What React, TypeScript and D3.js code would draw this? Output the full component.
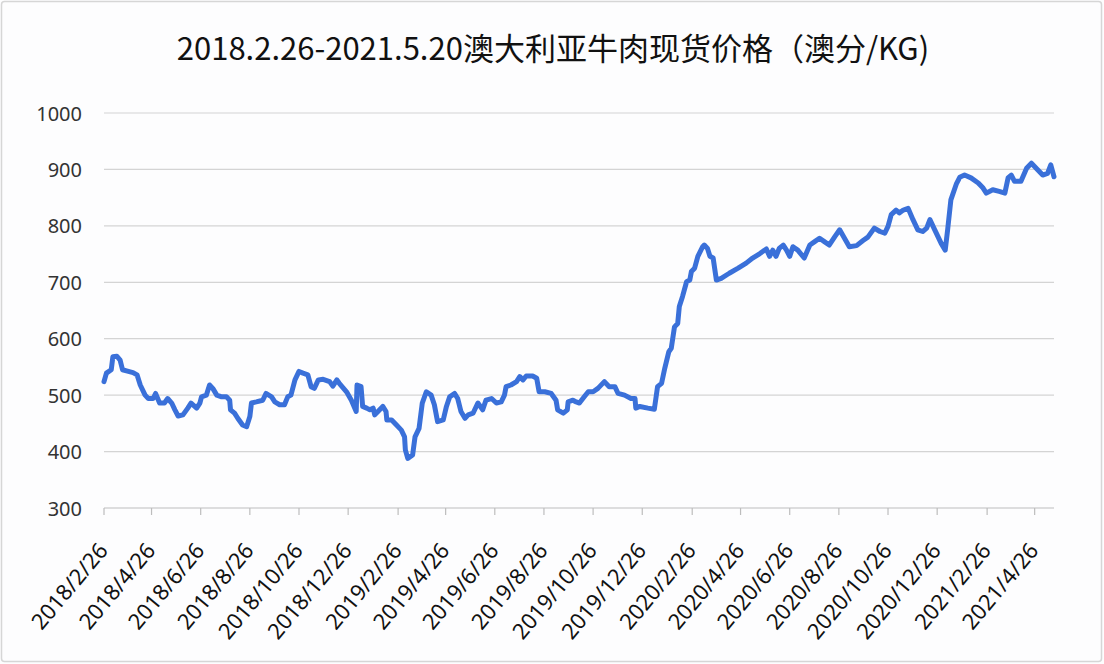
import * as d3 from "d3"

// 澳大利亚牛肉现货价格 (澳分/KG)
const dates2018 = [
  "2018-02-26", "2018-03-01", "2018-03-07", "2018-03-09", "2018-03-14", "2018-03-18", "2018-03-21", "2018-03-26",
  "2018-04-03", "2018-04-08", "2018-04-12", "2018-04-18", "2018-04-22", "2018-04-28", "2018-05-01", "2018-05-06",
  "2018-05-12", "2018-05-16", "2018-05-21", "2018-05-25", "2018-05-29", "2018-06-04", "2018-06-10", "2018-06-14",
  "2018-06-21", "2018-06-25", "2018-06-27", "2018-07-03", "2018-07-07", "2018-07-11", "2018-07-16", "2018-07-22",
  "2018-07-28", "2018-08-01", "2018-08-02", "2018-08-07", "2018-08-11", "2018-08-17", "2018-08-22", "2018-08-26",
  "2018-08-28", "2018-09-03", "2018-09-11", "2018-09-15", "2018-09-22", "2018-09-26", "2018-10-02", "2018-10-08",
  "2018-10-12", "2018-10-16", "2018-10-21", "2018-10-26", "2018-10-31", "2018-11-06", "2018-11-10", "2018-11-14",
  "2018-11-19", "2018-11-25", "2018-12-03", "2018-12-07", "2018-12-12", "2018-12-15", "2018-12-24", "2018-12-30",
]
const prices2018 = [
  524, 539, 545, 568, 569, 562, 545, 543,
  540, 536, 518, 500, 494, 494, 503, 486,
  486, 494, 486, 474, 463, 465, 477, 486,
  477, 486, 497, 500, 518, 512, 500, 497,
  497, 491, 474, 468, 459, 447, 444, 462,
  486, 488, 491, 503, 497, 488, 483, 483,
  497, 500, 527, 542, 539, 536, 515, 512,
  527, 528, 524, 516, 527, 521, 506, 491,
]

const dates2019 = [
  "2019-01-05", "2019-01-06", "2019-01-11", "2019-01-13", "2019-01-18", "2019-01-22", "2019-01-26", "2019-01-28",
  "2019-02-01", "2019-02-07", "2019-02-11", "2019-02-12", "2019-02-18", "2019-02-24", "2019-03-02", "2019-03-06",
  "2019-03-07", "2019-03-10", "2019-03-16", "2019-03-19", "2019-03-24", "2019-03-28", "2019-04-02", "2019-04-08",
  "2019-04-12", "2019-04-16", "2019-04-23", "2019-04-27", "2019-05-01", "2019-05-07", "2019-05-11", "2019-05-15",
  "2019-05-20", "2019-05-24", "2019-05-30", "2019-06-05", "2019-06-11", "2019-06-15", "2019-06-22", "2019-06-28",
  "2019-07-04", "2019-07-08", "2019-07-10", "2019-07-16", "2019-07-23", "2019-07-27", "2019-07-31", "2019-08-04",
  "2019-08-12", "2019-08-17", "2019-08-20", "2019-08-27", "2019-09-04", "2019-09-10", "2019-09-12", "2019-09-19",
  "2019-09-24", "2019-09-25", "2019-10-01", "2019-10-05", "2019-10-09", "2019-10-15", "2019-10-20", "2019-10-26",
  "2019-11-01", "2019-11-09", "2019-11-15", "2019-11-22", "2019-11-26", "2019-12-04", "2019-12-12", "2019-12-17",
  "2019-12-18", "2019-12-23",
]
const prices2019 = [
  471, 518, 515, 480, 477, 474, 477, 465,
  471, 480, 471, 456, 456, 447, 438, 426,
  403, 388, 394, 426, 441, 486, 506, 500,
  483, 453, 456, 480, 497, 503, 494, 471,
  459, 465, 468, 486, 474, 491, 494, 486,
  488, 500, 515, 518, 524, 533, 527, 534,
  534, 530, 506, 506, 503, 491, 474, 468,
  474, 488, 491, 488, 486, 497, 506, 506,
  512, 524, 515, 515, 503, 500, 494, 494,
  477, 480,
]

const dates2020 = [
  "2020-01-02", "2020-01-10", "2020-01-14", "2020-01-19", "2020-01-23", "2020-01-28", "2020-01-31", "2020-02-04",
  "2020-02-08", "2020-02-10", "2020-02-14", "2020-02-19", "2020-02-23", "2020-02-25", "2020-02-29", "2020-03-04",
  "2020-03-10", "2020-03-12", "2020-03-16", "2020-03-19", "2020-03-23", "2020-03-27", "2020-04-02", "2020-04-12",
  "2020-04-23", "2020-05-03", "2020-05-11", "2020-05-20", "2020-05-28", "2020-06-01", "2020-06-05", "2020-06-09",
  "2020-06-13", "2020-06-18", "2020-06-22", "2020-06-26", "2020-06-30", "2020-07-06", "2020-07-14", "2020-07-21",
  "2020-07-27", "2020-08-02", "2020-08-08", "2020-08-14", "2020-08-21", "2020-08-27", "2020-09-02", "2020-09-08",
  "2020-09-17", "2020-09-25", "2020-10-01", "2020-10-09", "2020-10-16", "2020-10-22", "2020-10-26", "2020-10-30",
  "2020-11-05", "2020-11-09", "2020-11-14", "2020-11-20", "2020-11-26", "2020-12-02", "2020-12-08", "2020-12-13",
  "2020-12-17", "2020-12-23", "2020-12-31",
]
const prices2020 = [
  477, 475, 515, 521, 548, 577, 583, 621,
  627, 657, 675, 701, 704, 719, 725, 746,
  763, 766, 760, 746, 743, 704, 707, 716,
  725, 734, 743, 751, 759, 746, 757, 746,
  760, 766, 757, 746, 763, 757, 743, 766,
  772, 778, 772, 766, 781, 793, 778, 763,
  765, 774, 780, 796, 790, 787, 799, 820,
  828, 823, 828, 831, 811, 793, 790, 796,
  811, 793, 769,
]

const dates2021 = [
  "2021-01-05", "2021-01-08", "2021-01-12", "2021-01-19", "2021-01-23", "2021-01-29", "2021-02-06", "2021-02-15",
  "2021-02-21", "2021-02-25", "2021-03-05", "2021-03-13", "2021-03-20", "2021-03-24", "2021-03-28", "2021-04-01",
  "2021-04-09", "2021-04-16", "2021-04-22", "2021-04-30", "2021-05-06", "2021-05-12", "2021-05-16", "2021-05-20",
]
const prices2021 = [
  757, 793, 846, 875, 886, 890, 885, 876,
  867, 858, 864, 861, 858, 885, 890, 879,
  879, 902, 911, 899, 890, 893, 908, 887,
]

const xTickLabels = [
  "2018/2/26", "2018/4/26", "2018/6/26", "2018/8/26", "2018/10/26", "2018/12/26",
  "2019/2/26", "2019/4/26", "2019/6/26", "2019/8/26", "2019/10/26", "2019/12/26",
  "2020/2/26", "2020/4/26", "2020/6/26", "2020/8/26", "2020/10/26", "2020/12/26",
  "2021/2/26", "2021/4/26",
]
const yTicks = [300, 400, 500, 600, 700, 800, 900, 1000]

const title = "2018.2.26-2021.5.20澳大利亚牛肉现货价格（澳分/KG)"

const W = 1104
const H = 664
const left = 104
const right = 1054
const top = 113
const bottom = 508

const parseDay = d3.utcParse("%Y-%m-%d")
const parseTick = (s: string) => {
  const [y, m, d] = s.split("/").map(Number)
  return new Date(Date.UTC(y, m - 1, d))
}

export default function App() {
  const allDates = [...dates2018, ...dates2019, ...dates2020, ...dates2021]
  const allPrices = [...prices2018, ...prices2019, ...prices2020, ...prices2021]
  const points = allDates.map((d, i) => ({ date: parseDay(d) as Date, value: allPrices[i] }))

  const x = d3
    .scaleUtc()
    .domain([parseDay("2018-02-26") as Date, parseDay("2021-05-20") as Date])
    .range([left, right])

  const y = d3.scaleLinear().domain([300, 1000]).range([bottom, top])

  const line = d3
    .line<{ date: Date; value: number }>()
    .x((d) => x(d.date))
    .y((d) => y(d.value))

  const font = "'Noto Sans', 'DejaVu Sans', sans-serif"

  return (
    <div style={{ position: "fixed", left: 0, top: 0 }}>
      <svg width={W} height={H} style={{ display: "block", background: "#fdfdfe" }}>
        <rect x={1.5} y={1.5} width={W - 4} height={H - 4} fill="#fdfdfe" stroke="#d6d6d6" strokeWidth={1.5} rx={3} />

        <text
          x={553}
          y={60}
          textAnchor="middle"
          fontFamily="'Noto Sans CJK SC', 'Noto Sans', sans-serif"
          fontSize={31}
          fill="#111"
        >
          {title}
        </text>

        {/* horizontal grid lines + y labels */}
        {yTicks.map((t) => (
          <g key={t}>
            <line
              x1={left}
              x2={right}
              y1={y(t)}
              y2={y(t)}
              stroke={t === 300 ? "#bdbdbd" : "#d4d4d4"}
              strokeWidth={1.2}
            />
            <text
              x={82}
              y={y(t)}
              textAnchor="end"
              dominantBaseline="central"
              fontFamily={font}
              fontSize={20}
              fill="#333"
            >
              {t}
            </text>
          </g>
        ))}

        {/* x ticks and rotated labels */}
        {xTickLabels.map((lbl) => {
          const tx = x(parseTick(lbl))
          return (
            <g key={lbl}>
              <line x1={tx} x2={tx} y1={bottom} y2={bottom + 7} stroke="#bdbdbd" strokeWidth={1.2} />
              <text
                transform={`translate(${tx + 5},${bottom + 43}) rotate(-50)`}
                textAnchor="end"
                fontFamily={font}
                fontSize={22}
                fill="#111"
              >
                {lbl}
              </text>
            </g>
          )
        })}

        <path
          d={line(points) || ""}
          fill="none"
          stroke="#3a70d9"
          strokeWidth={5}
          strokeLinejoin="round"
          strokeLinecap="round"
        />
      </svg>
    </div>
  )
}
